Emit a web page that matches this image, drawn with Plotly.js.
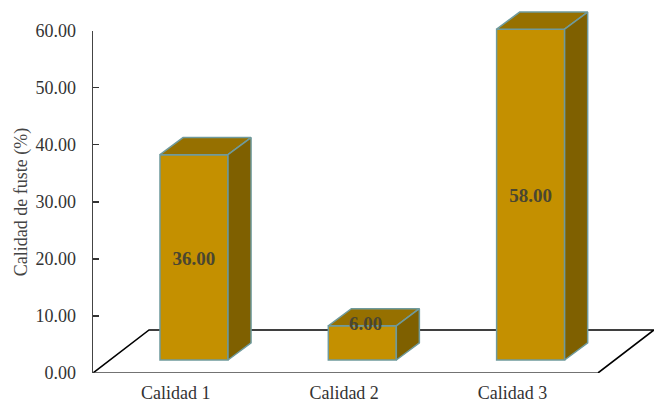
<!DOCTYPE html>
<html>
<head>
<meta charset="utf-8">
<script src="https://cdn.plot.ly/plotly-3.0.1.min.js"></script>
<style>html,body{margin:0;padding:0;background:#fff}#chart{width:654px;height:403px}</style>
</head>
<body>
<div id="chart"></div>
<script>
// Fuste quality by class
const categories = ["Calidad 1", "Calidad 2", "Calidad 3"];
const values = [36, 6, 58];
const yTicks = [0, 10, 20, 30, 40, 50, 60];

// Pseudo-3D geometry, in axis units
const barWidth = 0.404;
const barShift = 0.1;        // front face offset from the category centre
const barLift = 2.28;        // front face base above the axis zero
const depthX = 0.137, depthY = 3.0;       // bar extrusion
const floorX = 0.333, floorY = 7.55;      // floor extrusion
const tickShift = -0.008;
const labelNudgeX = [0, 0.02, 0];
const labelNudgeY = -0.5;
const labelLevel = [null, 8.9, null];     // explicit height where the mid-bar would be unreadable

// The drawing axis runs past 60 so the bar tops have room; the visible axis stops at 60.
const drawTop = 64;
const axisTop = 60;

const frontColor = "#C49000", topColor = "#967000", sideColor = "#7F6000", edgeColor = "#6F9A9C";
const valueColor = "#4A4630", axisText = "#333333";
const serif = "'Liberation Serif','Times New Roman',serif";

const centre = categories.map((_, i) => i + barShift);

function face(xs, ys, color) {
  return {
    type: "scatter", mode: "lines", x: xs, y: ys, fill: "toself", fillcolor: color,
    line: {color: edgeColor, width: 1.5}, hoverinfo: "skip", showlegend: false
  };
}

const traces = [{
  type: "bar", x: centre, y: values, base: barLift, width: barWidth,
  marker: {color: frontColor, line: {color: edgeColor, width: 1.5}},
  hoverinfo: "skip", showlegend: false
}];

values.forEach((v, i) => {
  const l = centre[i] - barWidth / 2, r = centre[i] + barWidth / 2;
  const b = barLift, t = barLift + v;
  traces.push(face([l, r, r + depthX, l + depthX, l], [t, t, t + depthY, t + depthY, t], topColor));
  traces.push(face([r, r + depthX, r + depthX, r, r], [b, b + depthY, t + depthY, t, b], sideColor));
});

traces.push({
  type: "scatter", mode: "text",
  x: centre.map((c, i) => c + labelNudgeX[i]),
  y: values.map((v, i) => (labelLevel[i] === null ? barLift + v / 2 : labelLevel[i]) + labelNudgeY),
  text: values.map(v => v.toFixed(2)),
  textposition: "middle center",
  textfont: {family: serif, size: 19, color: valueColor, weight: 700},
  hoverinfo: "skip", showlegend: false
});

// Carrier for the visible value axis
traces.push({
  type: "scatter", mode: "none", x: centre, y: values, yaxis: "y2",
  hoverinfo: "skip", showlegend: false
});

const layout = {
  width: 654, height: 403,
  margin: {l: 93, r: 0, t: 8.2, b: 30, pad: 0},
  paper_bgcolor: "#fff", plot_bgcolor: "rgba(0,0,0,0)",
  font: {family: serif, size: 18, color: axisText},
  showlegend: false,
  xaxis: {
    range: [-0.5, 2.833], tickmode: "array",
    tickvals: categories.map((_, i) => i + tickShift), ticktext: categories,
    showgrid: false, zeroline: false, showline: false, ticks: "", ticklabelstandoff: 7,
    tickangle: 0, tickfont: {family: serif, size: 18, color: axisText}
  },
  yaxis: {range: [0, drawTop], visible: false},
  yaxis2: {
    domain: [0, axisTop / drawTop], anchor: "x", side: "left",
    range: [0, axisTop], tickmode: "array", tickvals: yTicks, ticktext: yTicks.map(t => t.toFixed(2)),
    showgrid: false, zeroline: false, showline: true, linecolor: "#444", linewidth: 1.5,
    ticks: "inside", ticklen: 6, tickwidth: 1.2, tickcolor: "#333", ticklabelstandoff: 12,
    tickfont: {family: serif, size: 18, color: axisText},
    title: {text: "Calidad de fuste (%)", font: {family: serif, size: 18, color: "#444"}, standoff: 3}
  },
  shapes: [
    // floor outline
    {type: "path", layer: "below", xref: "x", yref: "y",
     path: `M -0.5 0 L ${-0.5 + floorX} ${floorY} L ${2.5 + floorX} ${floorY} L 2.5 0`,
     line: {color: "#000", width: 1.6}},
    {type: "line", layer: "below", xref: "x", yref: "y", x0: -0.5, x1: 2.5, y0: 0, y1: 0,
     line: {color: "#444", width: 1.4}}
  ]
};

Plotly.newPlot("chart", traces, layout, {displayModeBar: false, staticPlot: true});
</script>
</body>
</html>
